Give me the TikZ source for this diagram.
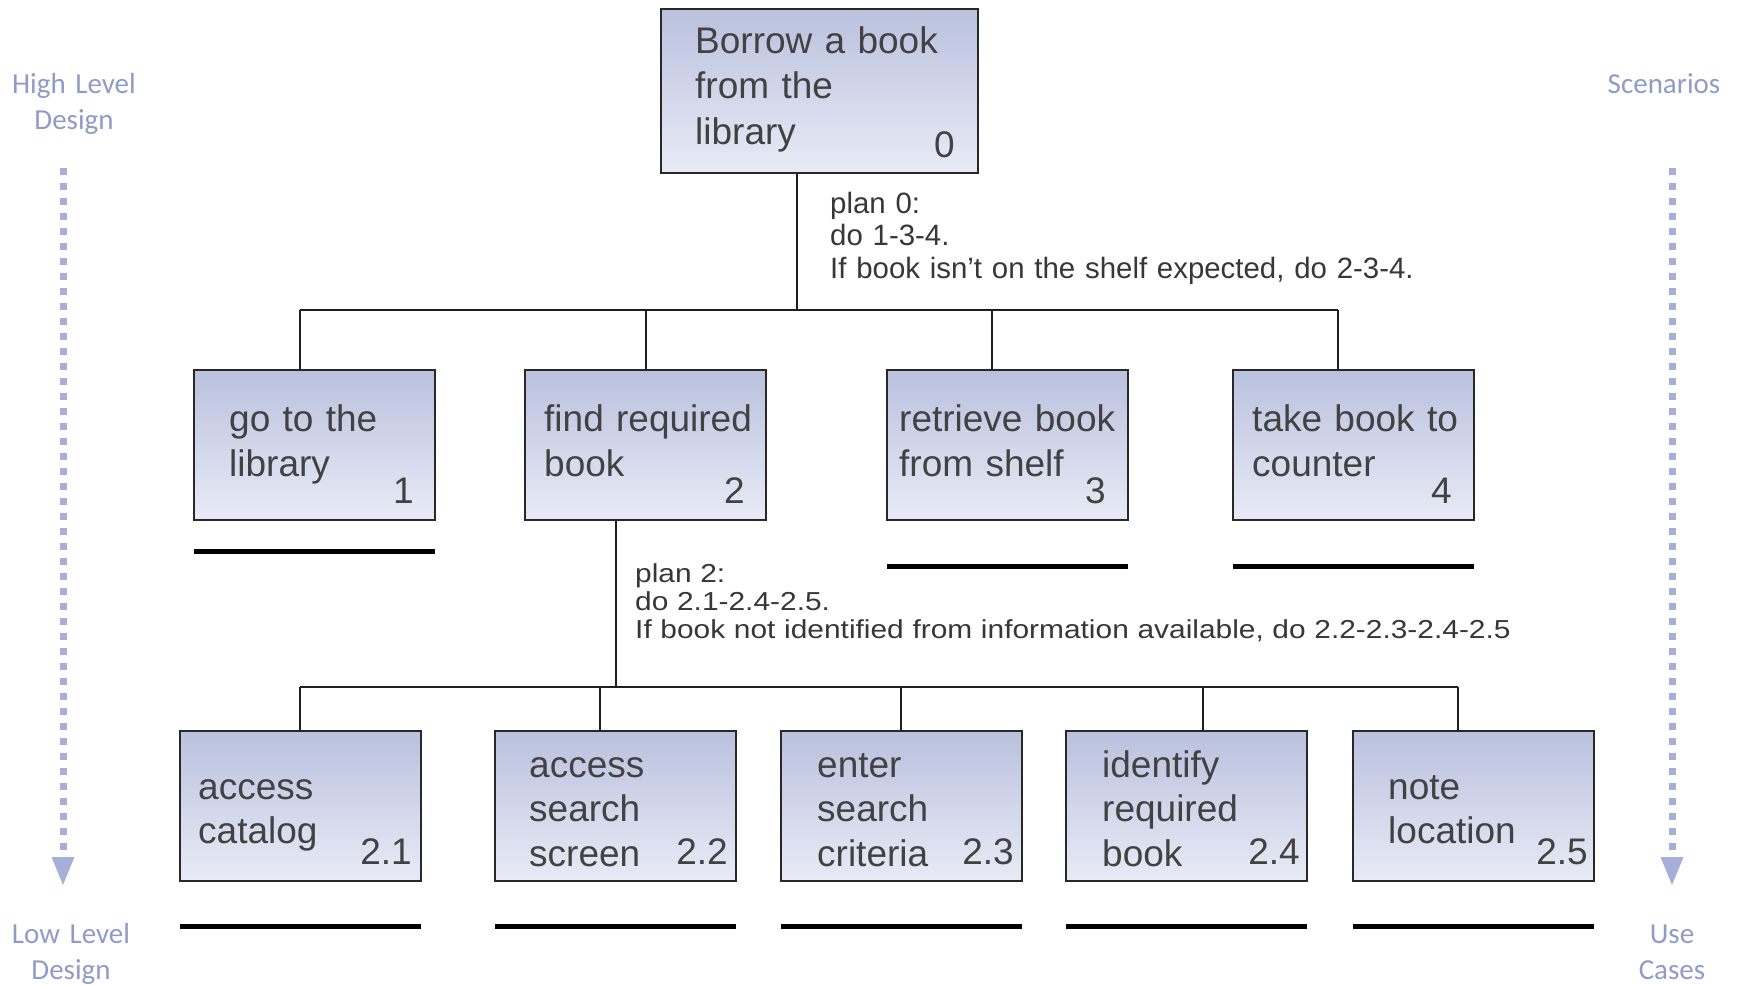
\documentclass[tikz,border=0pt]{standalone}
\usepackage{fontspec}
\setmainfont{Liberation Sans}
\newfontfamily\sidefont{Carlito}
\newfontfamily\plantwofont[FakeStretch=1.15]{Liberation Sans}
\definecolor{boxtop}{RGB}{186,193,222}
\definecolor{boxbot}{RGB}{232,235,246}
\definecolor{boxline}{RGB}{40,40,40}
\definecolor{txt}{RGB}{66,66,66}
\definecolor{plantxt}{RGB}{55,55,55}
\definecolor{sidetxt}{RGB}{143,155,200}
\definecolor{dotc}{RGB}{165,175,215}
\begin{document}
\begin{tikzpicture}[x=1pt,y=-1pt,
  box/.style={draw=boxline, line width=2.5pt, top color=boxtop, bottom color=boxbot,
    minimum width=241pt, minimum height=150pt, anchor=north west, inner sep=0pt, outer sep=0pt},
  btext/.style={anchor=base west, text width=260pt, align=left, inner sep=0pt, text=txt,
    font=\fontsize{37}{45.5}\selectfont},
  btexttwo/.style={btext, font=\fontsize{37}{44.5}\selectfont},
  bnum/.style={anchor=base east, inner sep=0pt, text=txt, font=\fontsize{37}{44.5}\selectfont},
  conn/.style={line width=2pt, draw=black!88},
  uline/.style={line width=5pt, draw=black},
  side/.style={text=sidetxt, font=\sidefont\fontsize{29}{36}\selectfont, text width=160pt,
    align=center, anchor=base, inner sep=0pt},
  dotline/.style={draw=dotc, line width=7pt, dash pattern=on 7pt off 8pt},
  plan/.style={anchor=base west, text width=900pt, align=left, inner sep=0pt, text=plantxt}
]
\useasboundingbox[fill=white] (0,0) rectangle (1740,985);

% boxes
\node[box, minimum width=317pt, minimum height=164pt] (b0) at (661,9) {};
\node[box] (b1) at (194,370) {};
\node[box] (b2) at (525,370) {};
\node[box] (b3) at (887,370) {};
\node[box] (b4) at (1233,370) {};
\node[box] (c1) at (180,731) {};
\node[box] (c2) at (495,731) {};
\node[box] (c3) at (781,731) {};
\node[box] (c4) at (1066,731) {};
\node[box] (c5) at (1353,731) {};

% box texts
\node[btext] (b0t) at (695,53) {Borrow a book\\from the\\library};
\node[bnum] (b0n) at (955,157) {0};
\node[btext] (b1t) at (229,431) {go to the\\library};
\node[bnum] (b1n) at (414,503) {1};
\node[btext] (b2t) at (544,431) {find required\\book};
\node[bnum] (b2n) at (745,503) {2};
\node[btext] (b3t) at (899,431) {retrieve book\\from shelf};
\node[bnum] (b3n) at (1106,503) {3};
\node[btext] (b4t) at (1252,431) {take book to\\counter};
\node[bnum] (b4n) at (1452,503) {4};

\node[btexttwo] (c1t) at (198,799) {access\\catalog};
\node[bnum] (c1n) at (412,864) {2.1};
\node[btexttwo] (c2t) at (529,777) {access\\search\\screen};
\node[bnum] (c2n) at (728,864) {2.2};
\node[btexttwo] (c3t) at (817,777) {enter\\search\\criteria};
\node[bnum] (c3n) at (1014,864) {2.3};
\node[btexttwo] (c4t) at (1102,777) {identify\\required\\book};
\node[bnum] (c4n) at (1300,864) {2.4};
\node[btexttwo] (c5t) at (1388,799) {note\\location};
\node[bnum] (c5n) at (1588,864) {2.5};

% plans
\node[plan, font=\fontsize{29.4}{32.5}\selectfont] (p0) at (830,213)
  {plan 0:\\do 1-3-4.\\If book isn’t on the shelf expected, do 2-3-4.};
\node[plan, font=\plantwofont\fontsize{26}{28.3}\selectfont] (p2) at (635,582)
  {plan 2:\\do 2.1-2.4-2.5.\\If book not identified from information available, do 2.2-2.3-2.4-2.5};

% level 1 connectors
\coordinate (j0) at (797,310);
\coordinate (k1) at (300,310);
\coordinate (k2) at (646,310);
\coordinate (k3) at (992,310);
\coordinate (k4) at (1338,310);
\draw[conn] (b0.south -| j0) -- (j0);
\draw[conn] (k1) -- (k4);
\draw[conn] (k1) -- (k1 |- b1.north);
\draw[conn] (k2) -- (k2 |- b2.north);
\draw[conn] (k3) -- (k3 |- b3.north);
\draw[conn] (k4) -- (k4 |- b4.north);

% level 2 connectors
\coordinate (m0) at (616,687);
\coordinate (m1) at (300,687);
\coordinate (m2) at (600,687);
\coordinate (m3) at (901,687);
\coordinate (m4) at (1203,687);
\coordinate (m5) at (1458,687);
\draw[conn] (b2.south -| m0) -- (m0);
\draw[conn] (m1) -- (m5);
\draw[conn] (m1) -- (m1 |- c1.north);
\draw[conn] (m2) -- (m2 |- c2.north);
\draw[conn] (m3) -- (m3 |- c3.north);
\draw[conn] (m4) -- (m4 |- c4.north);
\draw[conn] (m5) -- (m5 |- c5.north);

% box borders on top
\foreach \n in {b0,b1,b2,b3,b4,c1,c2,c3,c4,c5}{
  \draw[draw=boxline, line width=2.5pt] (\n.south west) rectangle (\n.north east);
}

% underlines
\draw[uline] ([yshift=-31pt]b1.south west) -- ([yshift=-31pt]b1.south east);
\draw[uline] ([yshift=-46pt]b3.south west) -- ([yshift=-46pt]b3.south east);
\draw[uline] ([yshift=-46pt]b4.south west) -- ([yshift=-46pt]b4.south east);
\foreach \n in {c1,c2,c3,c4,c5}{
  \draw[uline] ([yshift=-45pt]\n.south west) -- ([yshift=-45pt]\n.south east);
}

% side labels
\node[side] (hl) at (74,93) {High Level\\Design};
\node[side] (ll) at (71,943) {Low Level\\Design};
\node[side] (sc) at (1664,93) {Scenarios};
\node[side] (uc) at (1672,943) {Use\\Cases};

% dotted arrows
\coordinate (la) at (63,168);
\coordinate (lb) at (63,857);
\coordinate (ra) at (1672,168);
\coordinate (rb) at (1672,857);
\draw[dotline] (la) -- (lb);
\draw[dotline] (ra) -- (rb);
\fill[dotc] ([xshift=-11.5pt]lb) -- ([xshift=11.5pt]lb) -- ([yshift=-28pt]lb) -- cycle;
\fill[dotc] ([xshift=-11.5pt]rb) -- ([xshift=11.5pt]rb) -- ([yshift=-28pt]rb) -- cycle;
\end{tikzpicture}
\end{document}
